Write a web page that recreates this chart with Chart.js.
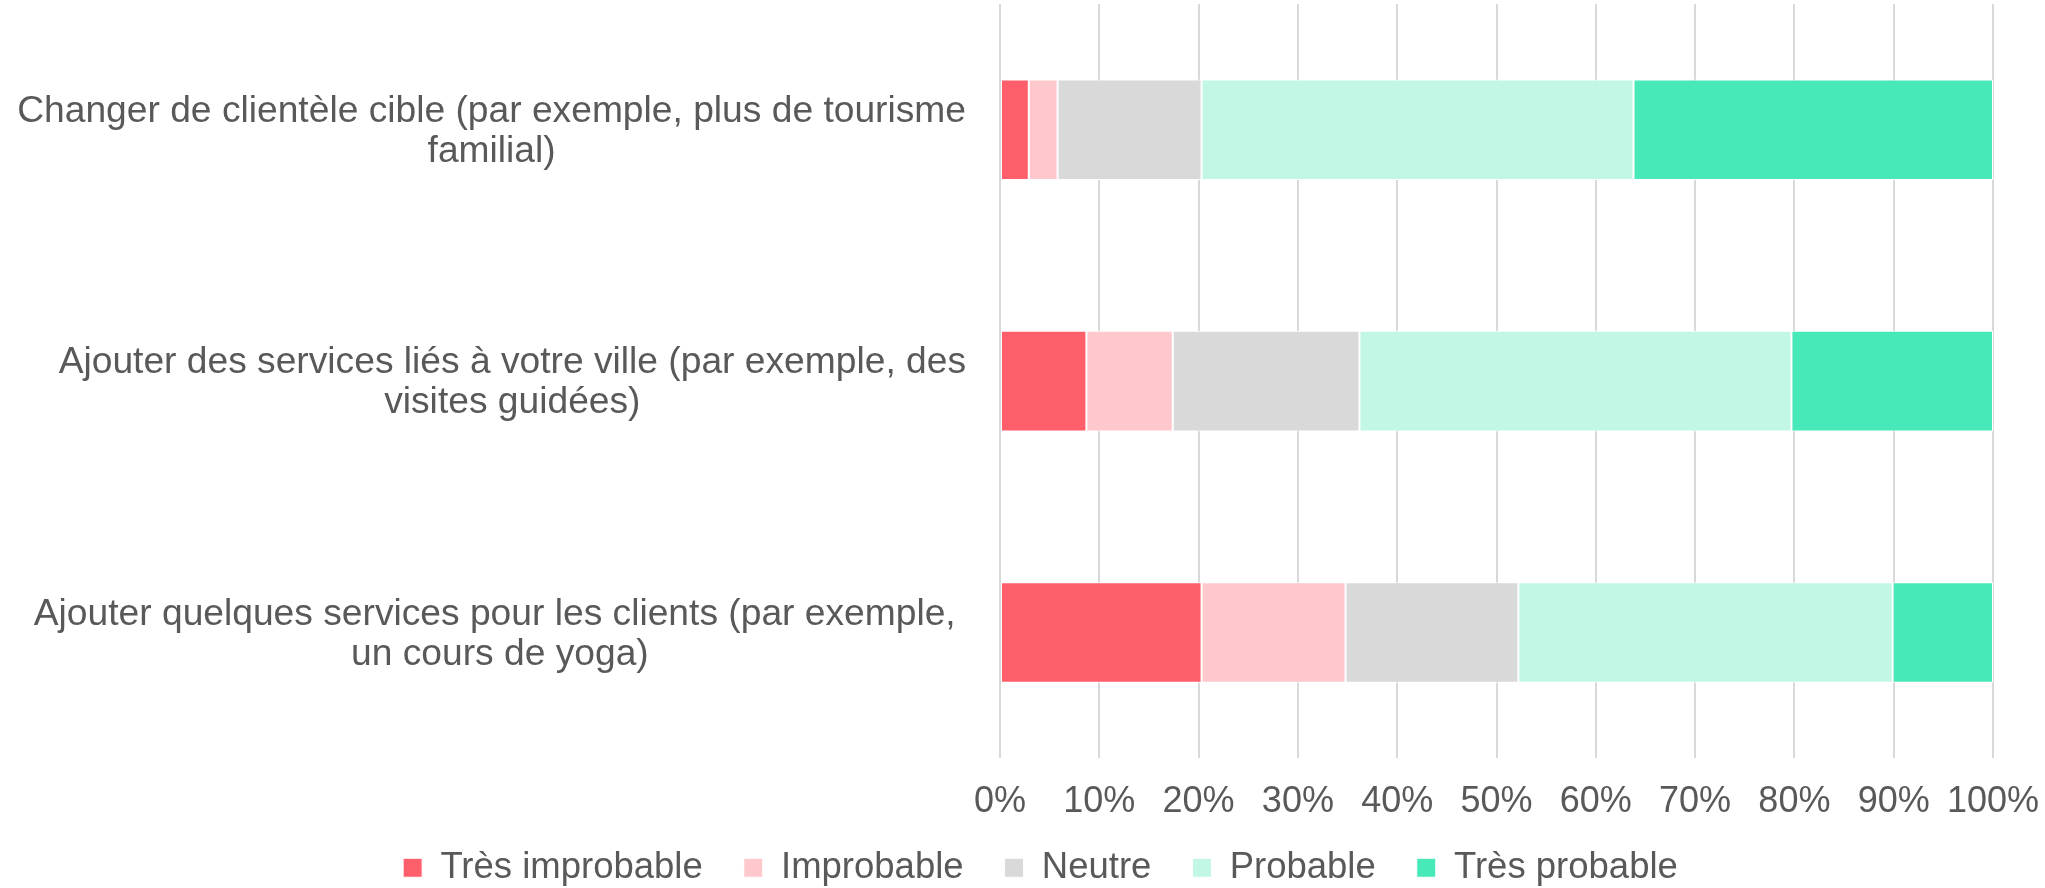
<!DOCTYPE html>
<html lang="fr">
<head>
<meta charset="utf-8">
<title>Probabilité des changements</title>
<script src="https://cdn.jsdelivr.net/npm/chart.js@4.4.1/dist/chart.umd.min.js"></script>
<style>
    html, body { margin: 0; padding: 0; background: #ffffff; }
    #wrap { width: 2045px; height: 888px; position: relative; }
</style>
</head>
<body>
<div id="wrap"><canvas id="likertChart"></canvas></div>
<script>
// Chart data
const categories = [
    ['Changer de clientèle cible (par exemple, plus de tourisme', 'familial)'],
    ['Ajouter des services liés à votre ville (par exemple, des', 'visites guidées)'],
    ['Ajouter quelques services pour les clients (par exemple, ', 'un cours de yoga)']
];
const seriesNames = ['Très improbable', 'Improbable', 'Neutre', 'Probable', 'Très probable'];
const tresImprobable = [2.9, 8.7, 20.3];
const improbable = [2.9, 8.7, 14.5];
const neutre = [14.5, 18.8, 17.4];
const probable = [43.5, 43.5, 37.7];
const tresProbable = [36.2, 20.3, 10.1];
const xTicks = [0, 10, 20, 30, 40, 50, 60, 70, 80, 90, 100];

const seriesColors = ['#FE5F6A', '#FEC8CD', '#D9D9D9', '#C2F7E6', '#48E9B8'];
const textColor = '#595959';
const fontFamily = '"Liberation Sans", Arial, sans-serif';

/**
 * Draws the wrapped category labels: each block right-aligned, lines centered inside it.
 */
const categoryLabelPlugin = {
    id: 'categoryLabels',
    afterLayout(chart) {
        // pull the legend up a little, closer to the bottom edge like the original
        if (chart.legend) {
            chart.legend.top -= 15;
            chart.legend.bottom -= 15;
        }
    },
    afterDraw(chart) {
        const ctx = chart.ctx;
        const yScale = chart.scales.y;
        const rightEdge = 966;
        const lineHeight = 40;
        ctx.save();
        ctx.font = '37.2px ' + fontFamily;
        ctx.fillStyle = textColor;
        ctx.textAlign = 'center';
        ctx.textBaseline = 'alphabetic';
        categories.forEach((lines, i) => {
            const yMid = yScale.getPixelForTick(i);
            const blockWidth = Math.max(...lines.map(l => ctx.measureText(l).width));
            const xMid = rightEdge - blockWidth / 2;
            const firstBaseline = yMid - 8;
            lines.forEach((line, j) => {
                const shift = line.endsWith(' ') ? -ctx.measureText(' ').width / 2 : 0;
                ctx.fillText(line.trim(), xMid + shift, firstBaseline + j * lineHeight);
            });
        });
        ctx.restore();
    }
};

document.addEventListener('DOMContentLoaded', function () {
    const ctx = document.getElementById('likertChart');
    const seriesValues = [tresImprobable, improbable, neutre, probable, tresProbable];

    new Chart(ctx, {
        type: 'bar',
        data: {
            labels: categories.map(c => c.join(' ')),
            datasets: seriesNames.map((name, i) => ({
                label: name,
                data: seriesValues[i],
                backgroundColor: seriesColors[i],
                borderColor: '#ffffff',
                borderWidth: 1,
                borderSkipped: false,
                barPercentage: 1,
                categoryPercentage: 0.4
            }))
        },
        options: {
            indexAxis: 'y',
            responsive: true,
            maintainAspectRatio: false,
            animation: false,
            layout: { padding: { top: 4, right: 52, bottom: -23, left: 88 } },
            scales: {
                x: {
                    stacked: true,
                    min: 0,
                    max: 100,
                    afterBuildTicks: scale => { scale.ticks = xTicks.map(v => ({ value: v })); },
                    grid: {
                        color: '#D9D9D9',
                        lineWidth: 2,
                        drawTicks: true,
                        tickLength: 22,
                        tickColor: 'rgba(0,0,0,0)'
                    },
                    border: { display: false },
                    ticks: {
                        color: textColor,
                        padding: 0,
                        font: { family: fontFamily, size: 36 },
                        maxRotation: 0,
                        callback: value => value + '%'
                    }
                },
                y: {
                    stacked: true,
                    afterFit: scale => { scale.width = 912; },
                    grid: { display: false },
                    border: { display: false },
                    ticks: { display: false }
                }
            },
            plugins: {
                legend: {
                    display: true,
                    position: 'bottom',
                    labels: {
                        color: textColor,
                        font: { family: fontFamily, size: 36.5 },
                        boxWidth: 19,
                        boxHeight: 19,
                        padding: 41
                    }
                },
                tooltip: { enabled: false }
            }
        },
        plugins: [categoryLabelPlugin]
    });
});
</script>
</body>
</html>
